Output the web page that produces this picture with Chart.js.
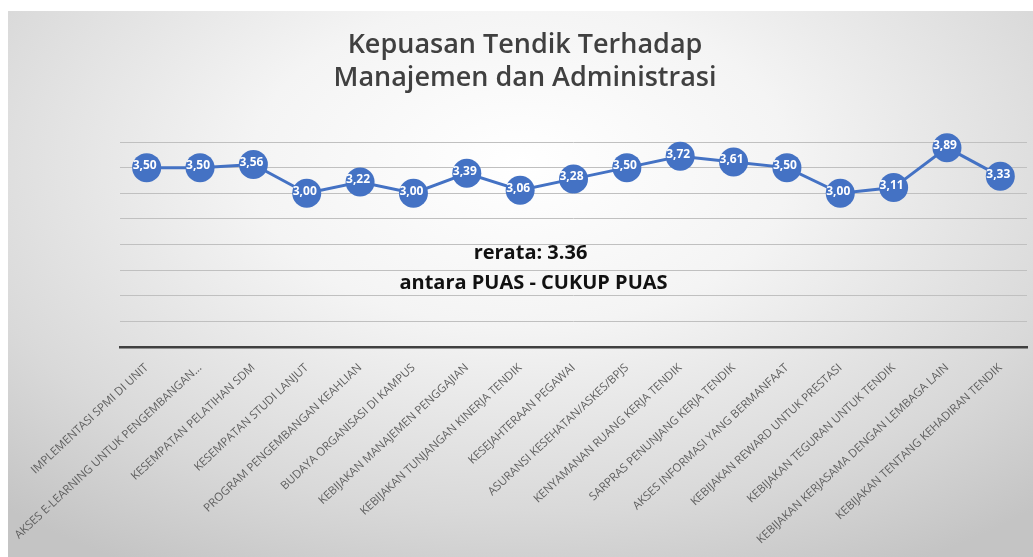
<!DOCTYPE html>
<html>
<head>
<meta charset="utf-8">
<script src="https://cdn.jsdelivr.net/npm/chart.js@4/dist/chart.umd.min.js"></script>
<style>
  html, body { margin: 0; padding: 0; background: #fff; }
  #wrap {
    position: absolute; left: 8px; top: 11px; width: 1025px; height: 546px;
    background: radial-gradient(ellipse 75% 85% at 50% 28%, #ffffff 0%, #f4f4f4 35%, #d9d9d9 75%, #c4c4c4 100%);
  }
</style>
</head>
<body>
<div id="wrap"><canvas id="chart"></canvas></div>
<script>
const categories = [
  'IMPLEMENTASI SPMI DI UNIT',
  'AKSES E-LEARNING UNTUK PENGEMBANGAN...',
  'KESEMPATAN PELATIHAN SDM',
  'KESEMPATAN STUDI LANJUT',
  'PROGRAM PENGEMBANGAN KEAHLIAN',
  'BUDAYA ORGANISASI DI KAMPUS',
  'KEBIJAKAN MANAJEMEN PENGGAJIAN',
  'KEBIJAKAN TUNJANGAN KINERJA TENDIK',
  'KESEJAHTERAAN PEGAWAI',
  'ASURANSI KESEHATAN/ASKES/BPJS',
  'KENYAMANAN RUANG KERJA TENDIK',
  'SARPRAS PENUNJANG KERJA TENDIK',
  'AKSES INFORMASI YANG BERMANFAAT',
  'KEBIJAKAN REWARD UNTUK PRESTASI',
  'KEBIJAKAN TEGURAN UNTUK TENDIK',
  'KEBIJAKAN KERJASAMA DENGAN LEMBAGA LAIN',
  'KEBIJAKAN TENTANG KEHADIRAN TENDIK'
];
const scores = [3.50, 3.50, 3.56, 3.00, 3.22, 3.00, 3.39, 3.06, 3.28, 3.50, 3.72, 3.61, 3.50, 3.00, 3.11, 3.89, 3.33];
const titleLines = ['Kepuasan Tendik Terhadap', 'Manajemen dan Administrasi'];
const noteLines = ['rerata: 3.36', 'antara PUAS - CUKUP PUAS'];

const FONT = '"Open Sans", Lato, sans-serif';

// white value labels on top of the points
const pointLabels = {
  id: 'pointLabels',
  afterDatasetsDraw(chart) {
    const ctx = chart.ctx;
    const meta = chart.getDatasetMeta(0);
    ctx.save();
    ctx.font = 'bold 12px ' + FONT;
    ctx.fillStyle = '#ffffff';
    ctx.textAlign = 'center';
    ctx.textBaseline = 'middle';
    meta.data.forEach((pt, i) => {
      ctx.fillText(scores[i].toFixed(2).replace('.', ','), pt.x - 2, pt.y - 2);
    });
    ctx.restore();
  }
};

// the "rerata" text in the middle of the plot
const noteText = {
  id: 'noteText',
  afterDraw(chart) {
    const ctx = chart.ctx;
    const y = chart.scales.y;
    ctx.save();
    ctx.font = 'bold 20px ' + FONT;
    ctx.fillStyle = '#111111';
    ctx.textAlign = 'center';
    ctx.textBaseline = 'middle';
    const cx = chart.width / 2 + 13;
    ctx.fillText(noteLines[0], cx - 3, y.getPixelForValue(1.83));
    ctx.fillText(noteLines[1], cx, y.getPixelForValue(1.25));
    ctx.restore();
  }
};

new Chart(document.getElementById('chart'), {
  type: 'line',
  data: {
    labels: categories,
    datasets: [{
      data: scores,
      borderColor: '#4472C4',
      backgroundColor: '#4472C4',
      borderWidth: 3,
      pointRadius: 14.5,
      pointHoverRadius: 14.5,
      pointBorderWidth: 0,
      tension: 0,
      clip: false
    }]
  },
  options: {
    responsive: true,
    maintainAspectRatio: false,
    animation: false,
    layout: { autoPadding: false, padding: { left: 15, right: 6, top: 0, bottom: 0 } },
    plugins: {
      legend: { display: false },
      tooltip: { enabled: false },
      title: {
        display: true,
        text: titleLines,
        color: '#404040',
        font: { family: FONT, size: 27, weight: '600', lineHeight: 1.25 },
        padding: { top: 17, bottom: 46.5 }
      }
    },
    scales: {
      x: {
        offset: true,
        grid: { display: false, offset: false },
        border: { display: true, color: '#404040', width: 2.5 },
        ticks: {
          color: '#5f5f5f',
          font: { family: FONT, size: 11.5 },
          maxRotation: 43,
          minRotation: 43,
          autoSkip: false,
          padding: 6
        },
        afterFit(scale) {
          scale.height = 210;
          scale.paddingLeft = 0;
          scale.paddingRight = 0;
        }
      },
      y: {
        min: 0,
        max: 4,
        ticks: { display: false, stepSize: 0.5 },
        grid: { color: '#c0c0c0', lineWidth: 1, drawTicks: false },
        border: { display: false },
        afterFit(scale) { scale.width = 97; }
      }
    }
  },
  plugins: [pointLabels, noteText]
});
</script>
</body>
</html>
